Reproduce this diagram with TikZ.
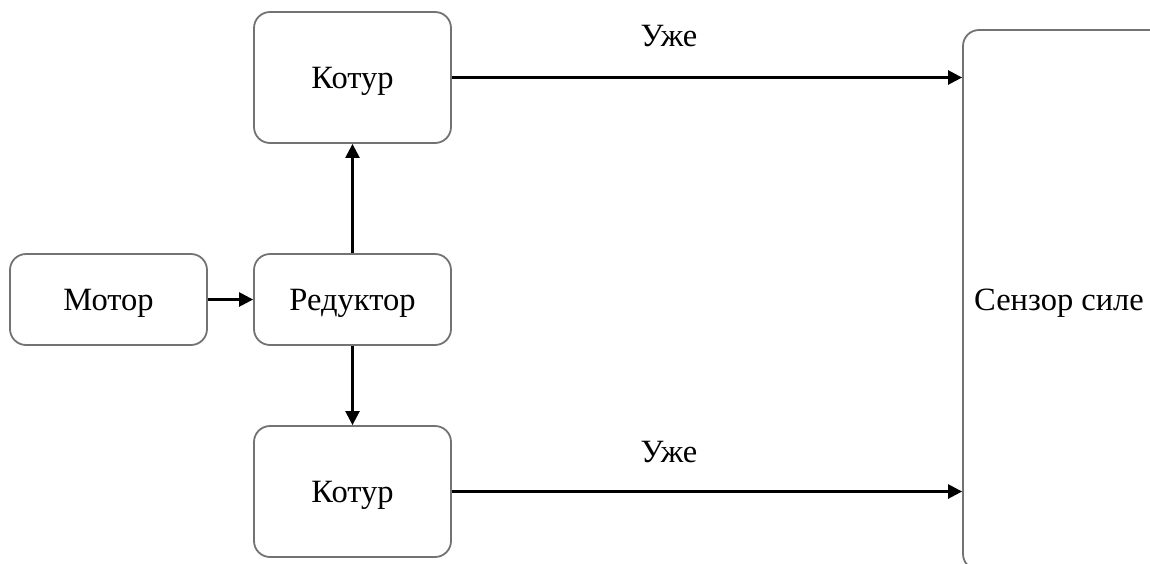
\documentclass[tikz,border=0pt]{standalone}
\usepackage{fontspec}
\setmainfont{Liberation Serif}
\usetikzlibrary{arrows.meta}
\begin{document}
\begin{tikzpicture}[x=1pt,y=-1pt,
  blockbox/.style={draw=black!55, line width=1.8pt, rounded corners=16pt, fill=white,
    minimum width=197pt, inner sep=0pt, text height=21.5pt, text depth=0pt,
    font=\fontsize{32.5}{38}\selectfont},
  conn/.style={draw=black, line width=2.4pt, -{Triangle[length=14pt,width=14pt]}},
  lbl/.style={font=\fontsize{32.5}{38}\selectfont, inner sep=0pt, text height=21.5pt, text depth=0pt}]
\useasboundingbox (0,0) rectangle (1150,563);
\clip (0,0) rectangle (1150,563);
\node[blockbox, minimum height=91pt] (motor) at (108.5,299.5) {Мотор};
\node[blockbox, minimum height=91pt] (red) at (352.5,299.5) {Редуктор};
\node[blockbox, minimum height=131pt] (k1) at (352.5,77.5) {Котур};
\node[blockbox, minimum height=131pt] (k2) at (352.5,491.5) {Котур};
\node[blockbox, minimum width=220pt, minimum height=540pt] (sens) at (1073,300) {};
\node[lbl] (senstext) at (1059,300) {Сензор силе};
\draw[conn] (motor.east) -- (red.west);
\draw[conn] (red.north) -- (k1.south);
\draw[conn] (red.south) -- (k2.north);
\draw[conn] (k1.east) -- (k1.east -| sens.west);
\draw[conn] (k2.east) -- (k2.east -| sens.west);
\node[lbl] (u1) at (669,36) {Уже};
\node[lbl] (u2) at (669,452) {Уже};
\end{tikzpicture}
\end{document}
